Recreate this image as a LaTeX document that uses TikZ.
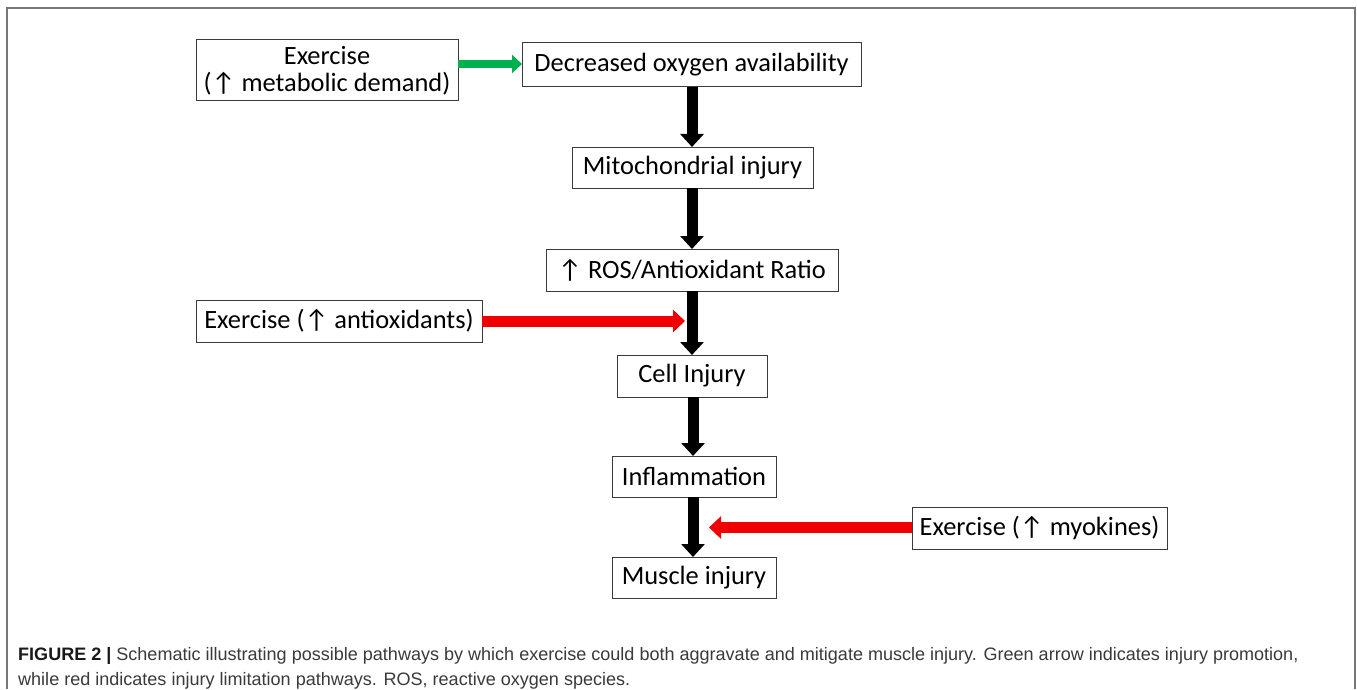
\documentclass[tikz,border=0pt]{standalone}
\usepackage{fontspec}
\setmainfont{Carlito}
\newfontfamily\capfont{Liberation Sans}
\usetikzlibrary{arrows.meta}
\definecolor{framegray}{HTML}{777777}
\definecolor{boxline}{HTML}{3A3A3A}
\definecolor{promote}{HTML}{00B050}
\definecolor{limit}{HTML}{F00000}
\definecolor{captext}{HTML}{3A3A3A}
\tikzset{
  box/.style={draw=boxline, line width=1bp, inner sep=0pt, outer sep=0pt, align=center,
    font=\fontsize{26.5}{27.5}\selectfont, text=black},
  flow/.style={line width=11bp, black, -{Triangle[width=23bp,length=13bp]}, shorten >=0pt},
  greenarrow/.style={line width=8bp, promote, -{Triangle[width=18bp,length=10bp]}},
  redarrow/.style={line width=11bp, limit, -{Triangle[width=22bp,length=12bp]}},
  captxt/.style={anchor=base west, inner sep=0pt, font=\capfont\fontsize{18.1}{20}\selectfont, text=captext}
}
\begin{document}
\begin{tikzpicture}[x=1bp,y=-1bp]
\useasboundingbox (0,0) rectangle (1357,689);
\fill[white] (0,0) rectangle (1357,689);
\draw[framegray, line width=2bp] (7,689) -- (7,8) -- (1355,8) -- (1355,689);
% nodes
\node[box, minimum width=262bp, minimum height=61bp] (A) at (327,70.5) {Exercise\\(↑ metabolic demand)};
\node[box, minimum width=339bp, minimum height=44bp] (B) at (691.5,65) {Decreased oxygen availability};
\node[box, minimum width=241bp, minimum height=41bp] (C) at (692.5,167.5) {Mitochondrial injury};
\node[box, minimum width=292bp, minimum height=42bp] (D) at (692,270) {↑ ROS/Antioxidant Ratio};
\node[box, minimum width=286bp, minimum height=42bp] (E) at (339,321) {Exercise (↑ antioxidants)};
\node[box, minimum width=150bp, minimum height=42bp] (F) at (692,376) {Cell Injury};
\node[box, minimum width=164bp, minimum height=41bp] (G) at (694,476.5) {Inflammation};
\node[box, minimum width=164bp, minimum height=41bp] (H) at (694,577.5) {Muscle injury};
\node[box, minimum width=255bp, minimum height=42bp] (I) at (1039.5,528) {Exercise (↑ myokines)};
% flow arrows
\draw[flow] (B.south -| 692,0) -- (C.north -| 692,0);
\draw[flow] (C.south -| 692,0) -- (D.north -| 692,0);
\draw[flow] (D.south -| 692,0) -- (F.north -| 692,0);
\draw[flow] (F.south -| 693,0) -- (G.north -| 693,0);
\draw[flow] (G.south -| 693,0) -- (H.north -| 693,0);
% promoting arrow
\draw[greenarrow] (A.east |- 0,64) -- (B.west |- 0,64);
% limiting arrows
\coordinate (t1) at (685,321);
\coordinate (t2) at (709,527.5);
\draw[redarrow] (E.east |- t1) -- (t1);
\draw[redarrow] (I.west |- t2) -- (t2);
% caption
\node[captxt] (cap1) at (18,660) {\textcolor{black!90}{\bfseries FIGURE 2 |} Schematic illustrating possible pathways by which exercise could both aggravate and mitigate muscle injury. Green arrow indicates injury promotion,};
\node[captxt] (cap2) at (18,685) {while red indicates injury limitation pathways. ROS, reactive oxygen species.};
\end{tikzpicture}
\end{document}
